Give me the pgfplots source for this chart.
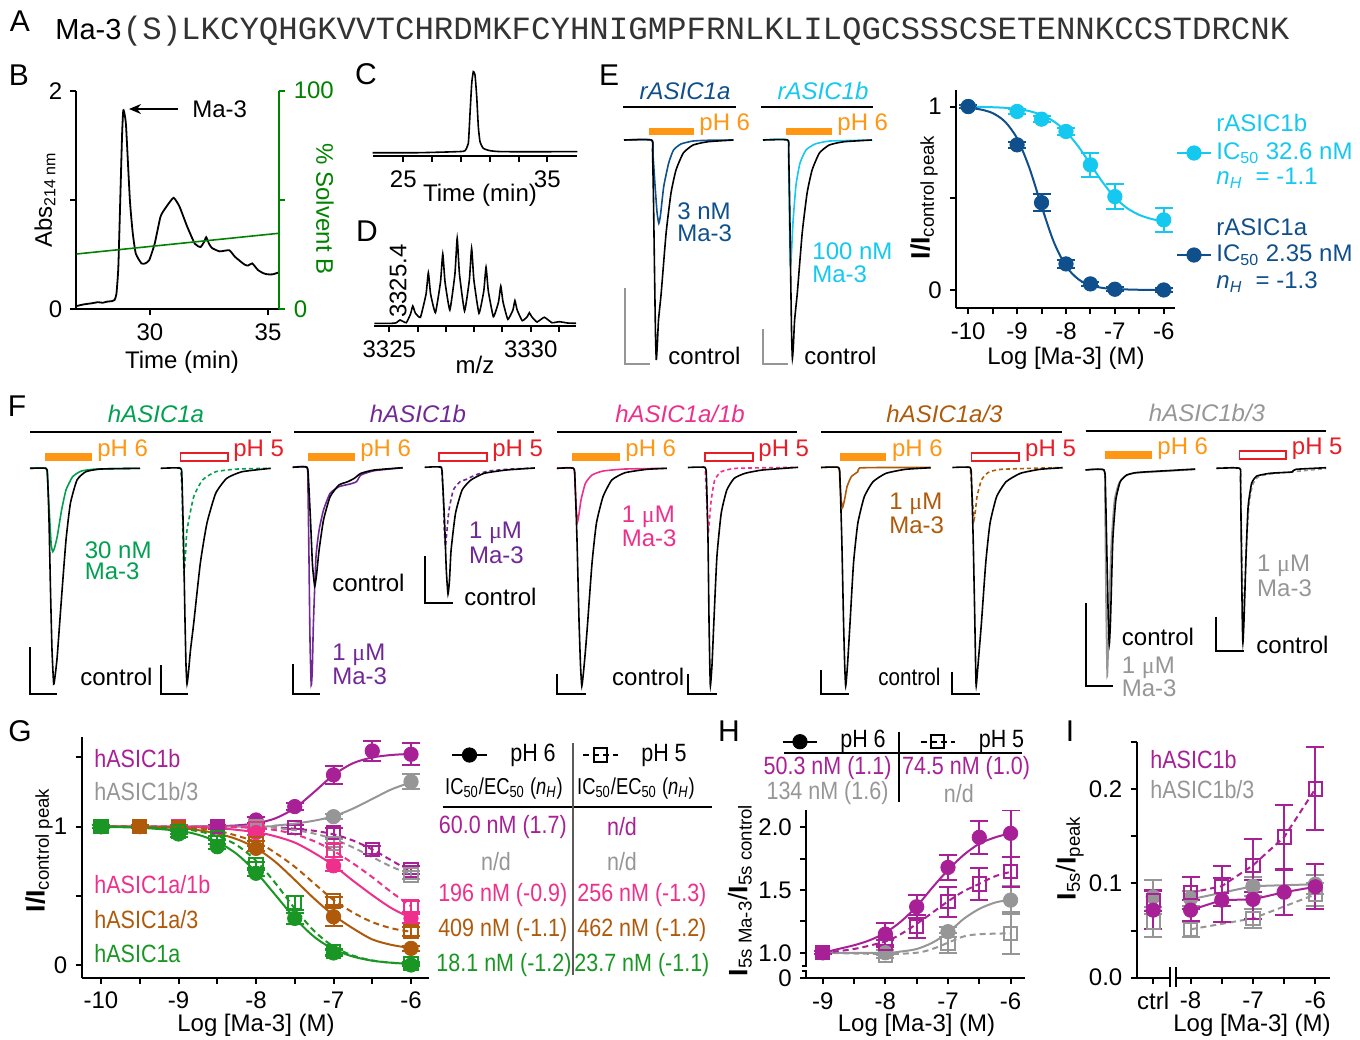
\documentclass[border=0pt]{standalone}
\usepackage{fontspec}
\setmainfont{Liberation Sans}
\newfontfamily\seqfont{Liberation Mono}
\newfontfamily\seriffont{Liberation Serif}
\newfontfamily\condfont[FakeStretch=0.86]{Liberation Sans}
\newfontfamily\condfontb[FakeStretch=0.80]{Liberation Sans}
\usepackage{pgfplots}
\pgfplotsset{compat=1.18}
\usetikzlibrary{arrows.meta}
\definecolor{cOrange}{RGB}{255,150,20}
\definecolor{cRed}{RGB}{230,30,40}
\definecolor{cDark}{RGB}{15,80,140}
\definecolor{cCyan}{RGB}{20,200,240}
\definecolor{cGreenF}{RGB}{0,160,80}
\definecolor{cGreen}{RGB}{25,150,35}
\definecolor{cPurpF}{RGB}{112,40,150}
\definecolor{cMag}{RGB}{168,32,150}
\definecolor{cPink}{RGB}{238,48,140}
\definecolor{cBrown}{RGB}{175,90,10}
\definecolor{cGray}{RGB}{150,150,150}
\definecolor{cSolv}{RGB}{0,130,0}
\newcommand{\um}{{\seriffont μ}M}
\newcommand{\nH}{\textit{n}\textsubscript{\textit{H}}}
\newcommand{\cf}{\condfont\fontsize{12.5}{14}\selectfont}
\newcommand{\cfh}{\condfontb\fontsize{11.5}{13}\selectfont}
\newcommand{\lett}{\fontsize{15}{17}\selectfont}
\newcommand{\yl}{\fontsize{13.3}{15}\selectfont}
\pgfplotsset{
  base/.style={scale only axis, axis line style={line width=1pt,-}, every tick/.style={black,line width=1pt},
    major tick length=3pt, minor tick length=3pt, tick align=outside,
    ticklabel style={font=\fontsize{12}{14}\selectfont}},
  dot/.style={color=#1, only marks, mark=*, mark size=3.6pt, mark options={solid,fill=#1},
    error bars/y dir=both, error bars/y explicit, error bars/error bar style={line width=1pt,solid},
    error bars/error mark options={rotate=90,mark size=4.5pt,line width=1pt,solid}},
  sq/.style={color=#1, only marks, mark=square, mark size=3.3pt, mark options={solid,line width=1pt},
    error bars/y dir=both, error bars/y explicit, error bars/error bar style={line width=1pt,solid},
    error bars/error mark options={rotate=90,mark size=4.5pt,line width=1pt,solid}},
  fitS/.style={color=#1, line width=1pt, no marks, smooth},
  fitD/.style={color=#1, line width=1pt, no marks, smooth, dash pattern=on 3pt off 2pt},
  tr/.style={color=#1, line width=0.8pt, no marks, smooth, tension=0.3},
  trd/.style={color=#1, line width=0.8pt, no marks, smooth, tension=0.3, dash pattern=on 2pt off 1.5pt},
}
\begin{document}
\fontsize{12}{14.4}\selectfont
\begin{tikzpicture}
\path[use as bounding box] (0,0) rectangle (680pt,-519.5pt);

% ---------------- B ----------------
\begin{axis}[base, at={(38.25pt,-154.65pt)}, anchor=south west, width=101.45pt, height=109.3pt,
  xmin=26.89, xmax=35.48, ymin=0, ymax=2, axis x line*=bottom, axis y line*=left,
  xtick={30,35}, xticklabels={30,35}, ytick={0,1,2}, yticklabels={0,,2}]
\addplot[black, line width=0.9pt, smooth, tension=0.3] coordinates {
(26.89,0.03) (27.2,0.045) (27.53,0.055) (27.8,0.065) (28.0,0.06) (28.18,0.07) (28.4,0.075) (28.5,0.085)
(28.58,0.14) (28.66,0.38) (28.74,0.98) (28.82,1.6) (28.87,1.82) (28.93,1.78) (28.99,1.67) (29.15,1.0)
(29.27,0.7) (29.4,0.51) (29.64,0.42) (29.8,0.42) (29.97,0.45) (30.2,0.60) (30.45,0.85) (30.7,0.94)
(31.0,1.02) (31.25,0.94) (31.57,0.76) (31.9,0.60) (32.14,0.57) (32.3,0.62) (32.38,0.66) (32.5,0.6)
(32.63,0.56) (32.95,0.53) (33.36,0.54) (33.6,0.48) (34.0,0.41) (34.15,0.40) (34.33,0.42) (34.57,0.36)
(34.8,0.33) (34.98,0.32) (35.2,0.32) (35.48,0.34)};
\end{axis}
\begin{axis}[base, at={(38.25pt,-154.65pt)}, anchor=south west, width=101.45pt, height=109.3pt,
  xmin=26.89, xmax=35.48, ymin=0, ymax=100, axis x line=none, axis y line*=right,
  y axis line style={cSolv}, ytick={0,50,100}, yticklabels={0,,100},
  yticklabel style={text=cSolv}, ytick style={cSolv}]
\addplot[cSolv, line width=0.8pt] coordinates {(26.89,25.3) (35.48,34.8)};
\end{axis}

% ---------------- C ----------------
\begin{axis}[base, at={(186.35pt,-78pt)}, anchor=south west, width=102.3pt, height=45pt,
  xmin=22.875, xmax=37.08, ymin=0, ymax=90, axis x line*=bottom, axis y line=none,
  xtick={25,27,29,31,33,35}, xticklabels={25,,,,,35}]
\addplot[black, line width=0.8pt, smooth, tension=0.3] coordinates {
(22.875,3.3) (26,3.3) (28,4) (29.0,4.5) (29.285,5.3) (29.514,12.67) (29.632,42.67) (29.75,72.67)
(29.861,84.33) (29.979,81) (30.097,59.33) (30.208,29.33) (30.326,14.33) (30.556,7.67) (31.021,5.33)
(31.944,4.33) (37.08,4.33)};
\end{axis}

% ---------------- D ----------------
\begin{axis}[base, at={(187.15pt,-163pt)}, anchor=south west, width=100.85pt, height=48pt,
  xmin=3324.47, xmax=3331.6, ymin=0, ymax=96, axis x line*=bottom, axis y line=none,
  xtick={3325,3326,3327,3328,3329,3330,3331}, xticklabels={3325,,,,,3330,}]
\addplot[black, line width=0.8pt, smooth, tension=0.25] coordinates {
(3324.47,2.7) (3325.1,2.7) (3325.25,3.3) (3325.38,6) (3325.6,3.3) (3325.75,12) (3325.83,20) (3325.92,13)
(3326.1,8.7) (3326.3,32) (3326.38,53.3) (3326.46,32) (3326.63,13.3) (3326.81,44) (3326.89,72) (3326.97,44)
(3327.14,16) (3327.32,52) (3327.40,87.7) (3327.48,52) (3327.66,15) (3327.83,46) (3327.91,77.7) (3327.99,46)
(3328.17,12.7) (3328.34,35) (3328.42,58.7) (3328.5,35) (3328.68,9.3) (3328.86,24) (3328.94,40) (3329.02,24)
(3329.19,6.7) (3329.37,16) (3329.44,25.3) (3329.52,16) (3329.70,5.3) (3329.88,9.5) (3329.95,13.3) (3330.03,9.5)
(3330.22,4) (3330.48,8.7) (3330.75,3.3) (3331.01,4.3) (3331.3,3) (3331.6,2.7)};
\end{axis}

% ---------------- E dose-response ----------------
\begin{axis}[base, at={(478pt,-154.15pt)}, anchor=south west, width=109.25pt, height=109.15pt,
  xmin=-10.25, xmax=-5.78, ymin=-0.1, ymax=1.09, axis lines*=left,
  xtick={-10,-9.5,-9,-8.5,-8,-7.5,-7,-6.5,-6}, xticklabels={-10,,-9,,-8,,-7,,-6},
  ytick={0,0.5,1}, yticklabels={0,,1}]
\addplot[fitS=cCyan] coordinates {(-10,0.999) (-9.75,0.998) (-9.5,0.996) (-9.25,0.993) (-9,0.986) (-8.75,0.975)
 (-8.5,0.954) (-8.25,0.919) (-8,0.863) (-7.75,0.783) (-7.5,0.685) (-7.25,0.587) (-7,0.504) (-6.75,0.446)
 (-6.5,0.409) (-6.25,0.387) (-6,0.374)};
\addplot[dot=cCyan] coordinates {(-10,1.0) +- (0,0.01) (-9,0.973) +- (0,0.015) (-8.5,0.931) +- (0,0.015)
 (-8,0.864) +- (0,0.02) (-7.5,0.682) +- (0,0.065) (-7,0.509) +- (0,0.07) (-6,0.382) +- (0,0.067)};
\addplot[fitS=cDark] coordinates {(-10,0.993) (-9.75,0.984) (-9.5,0.964) (-9.25,0.918) (-9,0.826) (-8.75,0.666)
 (-8.5,0.457) (-8.25,0.262) (-8,0.130) (-7.75,0.059) (-7.5,0.026) (-7.25,0.011) (-7,0.005) (-6.5,0.001) (-6,0.0)};
\addplot[dot=cDark] coordinates {(-10,1.0) +- (0,0.01) (-9,0.791) +- (0,0.015) (-8.5,0.476) +- (0,0.048)
 (-8,0.142) +- (0,0.02) (-7.5,0.033) +- (0,0.01) (-7,0.004) +- (0,0.01) (-6,0.0) +- (0,0.01)};
\end{axis}

% ---------------- G ----------------
\begin{axis}[base, at={(40.85pt,-488.85pt)}, anchor=south west, width=173.8pt, height=120.5pt,
  xmin=-10.249, xmax=-5.764, ymin=-0.092, ymax=1.65, axis lines*=left,
  xtick={-10,-9.5,-9,-8.5,-8,-7.5,-7,-6.5,-6}, xticklabels={-10,,-9,,-8,,-7,,-6},
  ytick={0,0.5,1,1.5}, yticklabels={0,,1,}]
% magenta
\addplot[fitS=cMag] coordinates {(-10,1.0) (-9,1.0) (-8.5,1.004) (-8.25,1.009) (-8,1.024) (-7.75,1.060) (-7.5,1.134)
 (-7.25,1.250) (-7,1.373) (-6.75,1.458) (-6.5,1.500) (-6.25,1.518) (-6,1.526)};
\addplot[fitD=cMag] coordinates {(-10,1) (-8,0.999) (-7.75,0.995) (-7.5,0.985) (-7.25,0.97) (-7,0.945) (-6.75,0.9)
 (-6.5,0.835) (-6.25,0.755) (-6,0.675)};
\addplot[sq=cMag] coordinates {(-10,1) +- (0,0.01) (-9,1.0) +- (0,0.01) (-8.5,1.0) +- (0,0.01) (-8,1.0) +- (0,0.01)
 (-7.5,0.996) +- (0,0.015) (-7,0.957) +- (0,0.03) (-6.5,0.832) +- (0,0.03) (-6,0.687) +- (0,0.03)};
\addplot[dot=cMag] coordinates {(-10,1) +- (0,0.01) (-9,1.0) +- (0,0.015) (-8.5,1.0) +- (0,0.015) (-8,1.048) +- (0,0.02)
 (-7.5,1.145) +- (0,0.025) (-7,1.374) +- (0,0.063) (-6.5,1.547) +- (0,0.075) (-6,1.523) +- (0,0.08)};
% gray
\addplot[fitS=cGray] coordinates {(-10,1) (-8,1.0) (-7.75,1.008) (-7.5,1.022) (-7.25,1.043) (-7,1.075) (-6.75,1.13)
 (-6.5,1.2) (-6.25,1.27) (-6,1.32)};
\addplot[fitD=cGray] coordinates {(-10,1) (-8,0.998) (-7.75,0.99) (-7.5,0.975) (-7.25,0.95) (-7,0.91) (-6.75,0.85)
 (-6.5,0.78) (-6.25,0.71) (-6,0.655)};
\addplot[sq=cGray] coordinates {(-10,1) +- (0,0.01) (-9,1) +- (0,0.01) (-8,1.0) +- (0,0.01) (-7,0.88) +- (0,0.03) (-6,0.651) +- (0,0.03)};
\addplot[dot=cGray] coordinates {(-10,1) +- (0,0.01) (-9,1) +- (0,0.01) (-8,1.0) +- (0,0.01) (-7,1.072) +- (0,0.02) (-6,1.325) +- (0,0.054)};
% pink
\addplot[fitS=cPink] coordinates {(-10,1) (-9,0.998) (-8.5,0.99) (-8,0.96) (-7.75,0.93) (-7.5,0.885) (-7.25,0.81)
 (-7,0.72) (-6.75,0.61) (-6.5,0.505) (-6.25,0.41) (-6,0.34)};
\addplot[fitD=cPink] coordinates {(-10,1) (-8.5,0.998) (-8,0.99) (-7.75,0.975) (-7.5,0.945) (-7.25,0.895) (-7,0.825)
 (-6.75,0.735) (-6.5,0.635) (-6.25,0.525) (-6,0.425)};
\addplot[sq=cPink] coordinates {(-10,1) +- (0,0.01) (-9.5,1) +- (0,0.01) (-9,1.0) +- (0,0.01) (-8,0.986) +- (0,0.015)
 (-7,0.83) +- (0,0.05) (-6,0.422) +- (0,0.04)};
\addplot[dot=cPink] coordinates {(-10,1) +- (0,0.01) (-9.5,1) +- (0,0.01) (-9,1.0) +- (0,0.01) (-8,0.957) +- (0,0.02)
 (-7,0.717) +- (0,0.04) (-6,0.337) +- (0,0.03)};
% brown
\addplot[fitS=cBrown] coordinates {(-10,1.0) (-9.5,0.998) (-9,0.99) (-8.75,0.975) (-8.5,0.95) (-8.25,0.91) (-8,0.845)
 (-7.75,0.745) (-7.5,0.615) (-7.25,0.48) (-7,0.36) (-6.75,0.265) (-6.5,0.185) (-6.25,0.145) (-6,0.122)};
\addplot[fitD=cBrown] coordinates {(-10,1.0) (-9,0.995) (-8.5,0.97) (-8,0.89) (-7.75,0.81) (-7.5,0.71) (-7.25,0.59)
 (-7,0.47) (-6.75,0.38) (-6.5,0.31) (-6.25,0.265) (-6,0.24)};
\addplot[sq=cBrown] coordinates {(-10,1) +- (0,0.01) (-9.5,1) +- (0,0.01) (-9,0.995) +- (0,0.01) (-8,0.879) +- (0,0.02)
 (-7,0.463) +- (0,0.03) (-6,0.241) +- (0,0.03)};
\addplot[dot=cBrown] coordinates {(-10,1) +- (0,0.01) (-9.5,1) +- (0,0.01) (-9,0.99) +- (0,0.01) (-8,0.843) +- (0,0.02)
 (-7,0.349) +- (0,0.07) (-6,0.12) +- (0,0.02)};
% green
\addplot[fitS=cGreen] coordinates {(-10,0.998) (-9.5,0.992) (-9,0.970) (-8.75,0.942) (-8.5,0.890) (-8.25,0.803) (-8,0.671)
 (-7.75,0.506) (-7.5,0.339) (-7.25,0.204) (-7,0.114) (-6.75,0.061) (-6.5,0.031) (-6.25,0.016) (-6,0.008)};
\addplot[fitD=cGreen] coordinates {(-10,0.999) (-9.5,0.996) (-9,0.984) (-8.75,0.967) (-8.5,0.932) (-8.25,0.867) (-8,0.754)
 (-7.75,0.592) (-7.5,0.408) (-7.25,0.246) (-7,0.133) (-6.75,0.068) (-6.5,0.033) (-6.25,0.016) (-6,0.008)};
\addplot[sq=cGreen] coordinates {(-10,1) +- (0,0.01) (-9,0.965) +- (0,0.015) (-8.5,0.92) +- (0,0.015) (-8,0.723) +- (0,0.02)
 (-7.5,0.45) +- (0,0.05) (-7,0.095) +- (0,0.02) (-6,0.01) +- (0,0.01)};
\addplot[dot=cGreen] coordinates {(-10,1) +- (0,0.01) (-9,0.947) +- (0,0.02) (-8.5,0.855) +- (0,0.02) (-8,0.663) +- (0,0.02)
 (-7.5,0.337) +- (0,0.04) (-7,0.087) +- (0,0.02) (-6,0.0) +- (0,0.01)};
\end{axis}

% ---------------- H ----------------
\begin{axis}[base, at={(403.1pt,-489.15pt)}, anchor=south west, width=109.45pt, height=84.15pt,
  xmin=-9.265, xmax=-5.768, ymin=0.796, ymax=2.139, axis lines*=left,
  xtick={-9,-8.5,-8,-7.5,-7,-6.5,-6}, xticklabels={-9,,-8,,-7,,-6},
  ytick={0.796,1,1.25,1.5,1.75,2}, yticklabels={0,1.0,,1.5,,2.0}]
\addplot[fitS=cGray] coordinates {(-9,1.0) (-8,1.0) (-7.75,1.01) (-7.5,1.03) (-7.25,1.08) (-7,1.16) (-6.75,1.27)
 (-6.5,1.35) (-6.25,1.40) (-6,1.425)};
\addplot[fitD=cGray] coordinates {(-9,1.0) (-8,0.99) (-7.5,1.0) (-7.25,1.03) (-7,1.08) (-6.75,1.13) (-6.5,1.148) (-6,1.155)};
\addplot[sq=cGray] coordinates {(-9,1.0) +- (0,0.01) (-8,0.98) +- (0,0.02) (-7,1.075) +- (0,0.08) (-6,1.155) +- (0,0.167)};
\addplot[dot=cGray] coordinates {(-9,1.0) +- (0,0.01) (-8,1.0) +- (0,0.02) (-7,1.168) +- (0,0.04) (-6,1.42) +- (0,0.11)};
\addplot[fitS=cMag] coordinates {(-9,1.0) (-8.75,1.03) (-8.5,1.06) (-8.25,1.10) (-8,1.16) (-7.75,1.25) (-7.5,1.37)
 (-7.25,1.52) (-7,1.66) (-6.75,1.78) (-6.5,1.87) (-6.25,1.92) (-6,1.955)};
\addplot[fitD=cMag] coordinates {(-9,1.0) (-8.5,1.03) (-8,1.09) (-7.75,1.15) (-7.5,1.23) (-7.25,1.32) (-7,1.41)
 (-6.75,1.49) (-6.5,1.55) (-6.25,1.61) (-6,1.645)};
\addplot[sq=cMag] coordinates {(-9,1.0) +- (0,0.01) (-8,1.075) +- (0,0.03) (-7.5,1.208) +- (0,0.093) (-7,1.407) +- (0,0.12)
 (-6.5,1.548) +- (0,0.13) (-6,1.647) +- (0,0.12)};
\addplot[dot=cMag] coordinates {(-9,1.0) +- (0,0.01) (-8,1.149) +- (0,0.09) (-7.5,1.367) +- (0,0.09) (-7,1.681) +- (0,0.097)
 (-6.5,1.921) +- (0,0.13) (-6,1.953) +- (0,0.19)};
\end{axis}

% ---------------- I ----------------
\begin{axis}[base, at={(568.35pt,-488.85pt)}, anchor=south west, width=96.55pt, height=118pt,
  xmin=-8.864, xmax=-5.768, ymin=0, ymax=0.25, axis lines*=left,
  xtick={-8.6,-8,-7.5,-7,-6.5,-6}, xticklabels={ctrl,-8,,-7,,-6},
  ytick={0,0.05,0.1,0.15,0.2,0.25}, yticklabels={0.0,,0.1,,0.2,}]
\addplot[color=cGray, line width=1pt] coordinates {(-8,0.083) (-7,0.097) (-6,0.099)};
\addplot[color=cGray, line width=1pt, dash pattern=on 3pt off 2pt] coordinates {(-8,0.0513) (-7,0.0628) (-6,0.0882)};
\addplot[sq=cGray] coordinates {(-8.6,0.059) +- (0,0.016) (-8,0.0513) +- (0,0.008) (-7,0.0628) +- (0,0.01) (-6,0.0882) +- (0,0.012)};
\addplot[dot=cGray] coordinates {(-8.6,0.0857) +- (0,0.018) (-8,0.084) +- (0,0.008) (-7,0.097) +- (0,0.01) (-6,0.099) +- (0,0.01)};
\addplot[color=cMag, line width=1pt] coordinates {(-8,0.0716) (-7.5,0.0822) (-7,0.083) (-6.5,0.0906) (-6,0.0963)};
\addplot[color=cMag, line width=1pt, dash pattern=on 3pt off 2pt] coordinates {(-8,0.09) (-7.5,0.097) (-7,0.119) (-6.5,0.149) (-6,0.2)};
\addplot[sq=cMag] coordinates {(-8.6,0.082) +- (0,0.011) (-8,0.09) +- (0,0.017) (-7.5,0.097) +- (0,0.021) (-7,0.119) +- (0,0.028)
 (-6.5,0.149) +- (0,0.034) (-6,0.2) +- (0,0.044)};
\addplot[dot=cMag] coordinates {(-8.6,0.0716) +- (0,0.02) (-8,0.0716) +- (0,0.011) (-7.5,0.0822) +- (0,0.023) (-7,0.083) +- (0,0.021)
 (-6.5,0.0906) +- (0,0.024) (-6,0.0963) +- (0,0.024)};
\end{axis}

% ---------------- overlay (pixel coordinates) ----------------
\begin{axis}[at={(0pt,0pt)}, anchor=north west, scale only axis, width=680pt, height=519.5pt,
  xmin=0, xmax=1360, ymin=0, ymax=1039, y dir=reverse, hide axis, clip=false]
% ---- E traces ----
\addplot[tr=cDark] coordinates {(624,140) (651.5,140) (653,155) (655,185) (657,212) (658.8,223.3) (660.5,215) (663.7,186.7)
 (668.6,163.3) (673.5,150) (680.9,144) (693,141) (710,140.2) (733.4,140)};
\addplot[tr=black] coordinates {(624,140) (651.5,140) (652.5,150) (653.5,200) (654.5,270) (655.5,335) (656.3,360) (657.3,345)
 (658.5,320) (661.2,293) (666.1,233) (671,193) (676,170) (683.3,153) (693.1,145) (707.9,141.7) (733.4,140)};
\addplot[tr=cCyan] coordinates {(763,140) (787.6,140) (788.6,165) (789.6,230) (790.4,265) (791.5,252) (793,222) (796,185)
 (800,163) (806,150) (815,144) (830,141) (872,140)};
\addplot[tr=black] coordinates {(763,140) (787.6,140) (788.6,150) (789.6,200) (790.6,270) (791.6,335) (792.4,358.3) (793.4,345)
 (794.6,320) (797.3,293) (802.2,233) (807.1,193) (812.1,170) (819.4,153) (829.2,145) (844,141.7) (872,140)};
% ---- F traces ----
\addplot[tr=cGreenF] coordinates {(30,468.3) (46,468.3) (47.5,478) (49.5,515) (51.2,545) (52.8,551.7) (54.5,548) (57.2,536.7)
 (61.6,510) (66,490) (72.6,476.7) (81.4,471) (96.8,469) (140,468.3)};
\addplot[tr=black] coordinates {(30,468.3) (46,468.3) (47.5,475) (49,520) (50.5,590) (52,650) (53.7,684) (55.2,675) (57.2,656.7)
 (61.6,596.7) (66,540) (70.4,503.3) (77,480) (85.8,471.7) (101,469) (140,468.3)};
\addplot[trd=cGreenF] coordinates {(178,468.3) (180.5,468.3) (182,490) (183,540) (184,572.7) (185.5,555) (187,530) (193.7,496.7)
 (202.5,480) (215.7,471.7) (237.7,469) (270.7,468.3)};
\addplot[tr=black] coordinates {(160.6,468.3) (180.5,468.3) (182,480) (183.5,540) (185,620) (186,665) (187,684) (188.5,672)
 (190.5,650) (193.7,623.3) (200.3,563.3) (206.9,523.3) (215.7,493.3) (226.7,478.3) (242,471.7) (270.7,468.3)};
\addplot[tr=cPurpF] coordinates {(292.7,467.3) (307,467.3) (308,490) (309,560) (310,640) (311.2,685) (312.3,670) (313.4,623.3)
 (316,556.7) (319.1,530) (323.5,510) (330.1,493.3) (338.9,486.7) (349.9,484) (356.5,481.7) (360.9,475) (374.1,470.7) (402.7,467.7)};
\addplot[tr=black] coordinates {(292.7,467.3) (307,467.3) (308.5,480) (310.5,520) (312.5,565) (314.7,586) (316.5,575) (319.1,550)
 (323.5,520) (330.1,496.7) (338.9,485) (347.7,481.7) (354.3,478.3) (360.9,473.3) (374.1,470) (402.7,467.7)};
\addplot[trd=cPurpF] coordinates {(439,467.3) (441.5,467.3) (443,490) (444.3,530) (445.4,546.7) (447,530) (449,510) (453.3,490)
 (460,481.7) (466.5,479.3) (475.3,475) (488.5,471) (510.6,469) (534.8,468)};
\addplot[tr=black] coordinates {(424.7,467.3) (441,467.3) (442.5,480) (444.5,520) (446.3,570) (448,594) (449.5,580) (451.1,550)
 (455.5,513.3) (462.1,490) (470.9,480) (484.1,473.3) (506.2,470) (534.8,468)};
\addplot[tr=cPink] coordinates {(556.8,468.3) (573.5,468.3) (575,485) (576.3,510) (577.5,521.7) (579,514) (581,500) (585.4,483.3)
 (592,475) (603,471) (625,469) (666.8,468.3)};
\addplot[tr=black] coordinates {(556.8,468.3) (573.5,468.3) (575,480) (577,540) (579,620) (580.5,665) (581.8,686) (583.5,672)
 (585.5,650) (587.6,623.3) (592,563.3) (596.4,523.3) (603,496.7) (611.8,480) (625,472.7) (647,469.3) (666.8,468.3)};
\addplot[trd=cPink] coordinates {(702,467.5) (705,467.5) (706.3,490) (707.3,515) (708.2,533.3) (709.5,520) (711.2,500) (714.7,480)
 (721.2,471.7) (736.4,468.3) (798,467.3)};
\addplot[tr=black] coordinates {(687.8,467.5) (705,467.5) (706.5,480) (708,540) (709,620) (709.8,665) (710.4,686) (712,665)
 (713.8,623.3) (716.9,556.7) (721.2,513.3) (726.8,490) (734.2,478.3) (745,473.3) (762.4,470) (798,467.3)};
\addplot[tr=cBrown] coordinates {(821,467.5) (838.5,467.5) (839.8,480) (841.2,500) (842.6,507.3) (844.5,500) (847,486.7)
 (851.3,476.7) (857.8,471.7) (859.5,468) (880,467.5) (930.7,467.5)};
\addplot[tr=black] coordinates {(821,467.5) (838.5,467.5) (840,480) (841.8,540) (843.5,620) (844.7,665) (845.7,686) (847.5,665)
 (850,623.3) (853.5,563.3) (857.8,523.3) (864.3,496.7) (873,481.7) (886,473.3) (905.5,469.3) (930.7,467.7)};
\addplot[trd=cBrown] coordinates {(966,467.5) (970,467.5) (971.5,485) (972.8,505) (974,520) (975.5,510) (977,496.7) (981.4,480)
 (987.9,472.7) (1000.9,469.3) (1062.5,467.5)};
\addplot[tr=black] coordinates {(952.3,467.5) (970,467.5) (971.5,480) (973.2,540) (974.8,620) (975.6,665) (976.2,686) (978,665)
 (981.4,623.3) (985.7,563.3) (990,523.3) (996.6,496.7) (1006.1,481.7) (1020.4,473.3) (1039.9,469.3) (1062.5,467.7)};
\addplot[tr=cGray] coordinates {(1085.5,470) (1104,470) (1105,500) (1106,600) (1107.2,676) (1108.5,640) (1110,580) (1111.5,540)
 (1114.5,500) (1119,483) (1126,475.5) (1135,473) (1150,472) (1195.2,469.5)};
\addplot[tr=black] coordinates {(1085.5,470) (1104,470) (1105.5,490) (1107,560) (1108.3,620) (1109.3,644) (1110.5,620) (1112.8,540)
 (1115.8,500) (1120.2,481.7) (1126.7,475) (1135.3,472.7) (1148.3,471.7) (1170,470.5) (1195.2,469)};
\addplot[trd=cGray] coordinates {(1216.4,468.3) (1239.5,468.3) (1240.8,490) (1242,560) (1243,615) (1244.3,600) (1246.5,545)
 (1249,505) (1252.5,485) (1258,477) (1270,474) (1326.1,468.5)};
\addplot[tr=black] coordinates {(1216.4,468.3) (1239.5,468.3) (1240.5,480) (1241.5,560) (1242.3,620) (1242.9,642.7) (1244,620)
 (1246,556.7) (1248.1,506.7) (1251.6,483.3) (1256.8,476) (1269.8,473.3) (1287.1,472.3) (1292,472) (1295.8,469.3) (1326.1,467.7)};
% ---- legend samples (E, G, H) ----
\addplot[color=cCyan, line width=1pt] coordinates {(1177,153) (1211,153)};
\addplot[dot=cCyan, error bars/y dir=none] coordinates {(1194,153)};
\addplot[color=cDark, line width=1pt] coordinates {(1177,255) (1211,255)};
\addplot[dot=cDark, error bars/y dir=none] coordinates {(1194,255)};
\addplot[color=black, line width=1pt] coordinates {(452,755) (487,755)};
\addplot[dot=black, error bars/y dir=none] coordinates {(469.5,755)};
\addplot[color=black, line width=1pt, dash pattern=on 3pt off 2pt] coordinates {(583,755) (618,755)};
\addplot[sq=black, error bars/y dir=none] coordinates {(600.5,755)};
\addplot[color=black, line width=1pt] coordinates {(782.6,741.7) (817,741.7)};
\addplot[dot=black, error bars/y dir=none] coordinates {(800,741.7)};
\addplot[color=black, line width=1pt, dash pattern=on 3pt off 2pt] coordinates {(920.6,741.7) (954.6,741.7)};
\addplot[sq=black, error bars/y dir=none] coordinates {(937.6,741.7)};

% ---- panel letters ----
\node[font=\lett] at (20,21) {A};
\node[font=\lett] at (19,75) {B};
\node[font=\lett] at (366,74) {C};
\node[font=\lett] at (367,231) {D};
\node[font=\lett] at (609,75) {E};
\node[font=\lett] at (17,406) {F};
\node[font=\lett] at (20,731) {G};
\node[font=\lett] at (729,731) {H};
\node[font=\lett] at (1070,731) {I};
% ---- A ----
\node[anchor=base west, inner sep=0pt, font=\fontsize{14.5}{16}\selectfont] at (55,39) {Ma-3};
\node[anchor=base west, inner sep=0pt, text=black!80, font=\seqfont\fontsize{16.2}{18}\selectfont] at (122.5,39) {(S)LKCYQHGKVVTCHRDMKFCYHNIGMPFRNLKLILQGCSSSCSETENNKCCSTDRCNK};
% ---- B ----
\node[rotate=90] at (45,200) {Abs\textsubscript{214 nm}};
\node[rotate=-90, text=cSolv] at (325,209) {\% Solvent B};
\node at (182,362) {Time (min)};
\node[anchor=west] at (184,109) {Ma-3};
\draw[-{Stealth[length=6pt,width=5pt]}, line width=0.8pt] (178,109) -- (129,109);
% ---- C, D ----
\node at (480,195) {Time (min)};
\node at (475,365) {m/z};
\node[rotate=90] at (398,281) {3325.4};
% ---- E ----
\node[font=\itshape, text=cDark] at (685,91) {rASIC1a};
\node[font=\itshape, text=cCyan] at (823,91) {rASIC1b};
\draw[line width=1pt] (623,106.7) -- (736,106.7);
\draw[line width=1pt] (761,106.7) -- (873,106.7);
\fill[cOrange] (649,128) rectangle (694,135);
\fill[cOrange] (786,128) rectangle (832,135);
\node[anchor=west, inner sep=0pt, text=cOrange] at (699,125) {pH 6};
\node[anchor=west, inner sep=0pt, text=cOrange] at (837,125) {pH 6};
\node[anchor=west, inner sep=0pt, text=cDark] at (677,211) {3 nM};
\node[anchor=west, inner sep=0pt, text=cDark] at (677,233) {Ma-3};
\node[anchor=west, inner sep=0pt, text=cCyan] at (812,251) {100 nM};
\node[anchor=west, inner sep=0pt, text=cCyan] at (812,274) {Ma-3};
\node[anchor=west, inner sep=0pt] at (668,356) {control};
\node[anchor=west, inner sep=0pt] at (804,356) {control};
\draw[cGray, line width=1pt] (625.4,288) -- (625.4,364) -- (650,364);
\draw[cGray, line width=1pt] (763,329) -- (763,364) -- (787.5,364);
\node at (1066,358) {Log [Ma-3] (M)};
\node[rotate=90, font=\yl] at (924,197) {\textbf{I/I}\textsubscript{control peak}};
\node[anchor=west, inner sep=0pt, text=cCyan] at (1216,123) {rASIC1b};
\node[anchor=west, inner sep=0pt, text=cCyan] at (1216,153) {IC\textsubscript{50} 32.6 nM};
\node[anchor=west, inner sep=0pt, text=cCyan] at (1216,178) {\nH\ \ = -1.1};
\node[anchor=west, inner sep=0pt, text=cDark] at (1216,227) {rASIC1a};
\node[anchor=west, inner sep=0pt, text=cDark] at (1216,255) {IC\textsubscript{50} 2.35 nM};
\node[anchor=west, inner sep=0pt, text=cDark] at (1216,282) {\nH\ \ = -1.3};
% ---- F titles / lines ----
\node[font=\itshape, text=cGreenF] at (156,414) {hASIC1a};
\node[font=\itshape, text=cPurpF] at (418,414) {hASIC1b};
\node[font=\itshape, text=cPink] at (680,414) {hASIC1a/1b};
\node[font=\itshape, text=cBrown] at (944.5,414) {hASIC1a/3};
\node[font=\itshape, text=cGray] at (1207,413) {hASIC1b/3};
\draw[line width=1pt] (30,432.3) -- (271,432.3);
\draw[line width=1pt] (294,432.3) -- (534,432.3);
\draw[line width=1pt] (556.8,432.3) -- (797,432.3);
\draw[line width=1pt] (821,432.3) -- (1061.6,432.3);
\draw[line width=1pt] (1085.5,430.7) -- (1326,430.7);
% pH bars
\fill[cOrange] (45,452.7) rectangle (91.5,460.7);
\fill[cOrange] (308,452.7) rectangle (354.8,460.7);
\fill[cOrange] (572,452.7) rectangle (619.7,460.7);
\fill[cOrange] (839.6,452.7) rectangle (886,460.7);
\fill[cOrange] (1105,451) rectangle (1151.8,459);
\draw[cRed, line width=0.9pt] (180.5,452.7) rectangle (228,460.7);
\draw[cRed, line width=0.9pt] (439,452.7) rectangle (487,460.7);
\draw[cRed, line width=0.9pt] (705.2,452.7) rectangle (752.9,460.7);
\draw[cRed, line width=0.9pt] (971.4,452.7) rectangle (1019.1,460.7);
\draw[cRed, line width=0.9pt] (1239.4,451) rectangle (1286.2,459);
\node[anchor=west, inner sep=0pt, text=cOrange] at (97,450.7) {pH 6};
\node[anchor=west, inner sep=0pt, text=cOrange] at (360,450.7) {pH 6};
\node[anchor=west, inner sep=0pt, text=cOrange] at (625,450.7) {pH 6};
\node[anchor=west, inner sep=0pt, text=cOrange] at (891.6,450.7) {pH 6};
\node[anchor=west, inner sep=0pt, text=cOrange] at (1157,448.3) {pH 6};
\node[anchor=west, inner sep=0pt, text=cRed] at (233,450.7) {pH 5};
\node[anchor=west, inner sep=0pt, text=cRed] at (492,450.7) {pH 5};
\node[anchor=west, inner sep=0pt, text=cRed] at (758,450.7) {pH 5};
\node[anchor=west, inner sep=0pt, text=cRed] at (1024.8,450.7) {pH 5};
\node[anchor=west, inner sep=0pt, text=cRed] at (1291.5,448.3) {pH 5};
% scale bars
\draw[line width=1pt] (30,647) -- (30,694) -- (57.2,694);
\draw[line width=1pt] (160.6,665) -- (160.6,694) -- (188,694);
\draw[line width=1pt] (292.7,664) -- (292.7,694) -- (320,694);
\draw[line width=1pt] (424.7,556) -- (424.7,603.3) -- (452.5,603.3);
\draw[line width=1pt] (556.8,674) -- (556.8,694) -- (586,694);
\draw[line width=1pt] (687.8,674) -- (687.8,694) -- (716.9,694);
\draw[line width=1pt] (821,670) -- (821,694) -- (849,694);
\draw[line width=1pt] (952.3,671.7) -- (952.3,694) -- (980,694);
\draw[line width=1pt] (1085.5,603.3) -- (1085.5,686) -- (1112.8,686);
\draw[line width=1pt] (1216.4,616.7) -- (1216.4,650.7) -- (1243.7,650.7);
% F labels
\node[anchor=west, inner sep=0pt, text=cGreenF] at (84.5,550) {30 nM};
\node[anchor=west, inner sep=0pt, text=cGreenF] at (84.5,571.7) {Ma-3};
\node[anchor=west, inner sep=0pt] at (80,676.7) {control};
\node[anchor=west, inner sep=0pt] at (332,583) {control};
\node[anchor=west, inner sep=0pt, text=cPurpF] at (332,655) {1 \um};
\node[anchor=west, inner sep=0pt, text=cPurpF] at (332,676.7) {Ma-3};
\node[anchor=west, inner sep=0pt, text=cPurpF] at (468.7,533) {1 \um};
\node[anchor=west, inner sep=0pt, text=cPurpF] at (468.7,555) {Ma-3};
\node[anchor=west, inner sep=0pt] at (464,596.7) {control};
\node[anchor=west, inner sep=0pt, text=cPink] at (621.5,516.7) {1 \um};
\node[anchor=west, inner sep=0pt, text=cPink] at (621.5,538.3) {Ma-3};
\node[anchor=west, inner sep=0pt] at (611.8,676.7) {control};
\node[anchor=west, inner sep=0pt, text=cBrown] at (889,503.3) {1 \um};
\node[anchor=west, inner sep=0pt, text=cBrown] at (889,525) {Ma-3};
\node[anchor=west, inner sep=0pt, font=\condfont] at (878,676.7) {control};
\node[anchor=west, inner sep=0pt] at (1121.5,636.7) {control};
\node[anchor=west, inner sep=0pt, text=cGray] at (1121.5,668) {1 \um};
\node[anchor=west, inner sep=0pt, text=cGray] at (1121.5,688.3) {Ma-3};
\node[anchor=west, inner sep=0pt, text=cGray] at (1256.8,565.8) {1 \um};
\node[anchor=west, inner sep=0pt, text=cGray] at (1256.8,588) {Ma-3};
\node[anchor=west, inner sep=0pt] at (1256,644.7) {control};
% ---- G ----
\node[anchor=west, inner sep=0pt, font=\cf, text=cMag] at (94,758.3) {hASIC1b};
\node[anchor=west, inner sep=0pt, font=\cf, text=cGray] at (94,791.7) {hASIC1b/3};
\node[anchor=west, inner sep=0pt, font=\cf, text=cPink] at (94,885) {hASIC1a/1b};
\node[anchor=west, inner sep=0pt, font=\cf, text=cBrown] at (94,919.3) {hASIC1a/3};
\node[anchor=west, inner sep=0pt, font=\cf, text=cGreen] at (94,953.3) {hASIC1a};
\node at (256,1025) {Log [Ma-3] (M)};
\node[rotate=90, font=\yl] at (39,850) {\textbf{I/I}\textsubscript{control peak}};
\node[font=\cf] at (533,755) {pH 6};
\node[font=\cf] at (664,755) {pH 5};
\node[font=\cfh] at (504,788.3) {IC\textsubscript{50}/EC\textsubscript{50} (\nH)};
\node[font=\cfh] at (636,788.3) {IC\textsubscript{50}/EC\textsubscript{50} (\nH)};
\draw[line width=1pt] (443.3,807.3) -- (711.7,807.3);
\draw[line width=0.8pt, black!65] (572.7,743.3) -- (572.7,975);
\node[font=\cf, text=cMag] at (502.8,826.7) {60.0 nM (1.7)};
\node[font=\cf, text=cMag] at (622,826.7) {n/d};
\node[font=\cf, text=cGray] at (496,861.7) {n/d};
\node[font=\cf, text=cGray] at (622,861.7) {n/d};
\node[font=\cf, text=cPink] at (502.8,895) {196 nM (-0.9)};
\node[font=\cf, text=cPink] at (641.9,895) {256 nM (-1.3)};
\node[font=\cf, text=cBrown] at (502.8,930) {409 nM (-1.1)};
\node[font=\cf, text=cBrown] at (641.9,930) {462 nM (-1.2)};
\node[font=\cf, text=cGreen] at (504,965) {18.1 nM (-1.2)};
\node[font=\cf, text=cGreen] at (641.9,965) {23.7 nM (-1.1)};
% ---- H ----
\node[font=\cf] at (863,741.7) {pH 6};
\node[font=\cf] at (1001.5,741.7) {pH 5};
\draw[line width=1pt] (783.8,752.7) -- (1021.8,752.7);
\draw[line width=0.8pt] (899,731.7) -- (899,801.7);
\node[font=\cf, text=cMag] at (827.6,768.3) {50.3 nM (1.1)};
\node[font=\cf, text=cMag] at (966,768.3) {74.5 nM (1.0)};
\node[font=\cf, text=cGray] at (827.5,793.3) {134 nM (1.6)};
\node[font=\cf, text=cGray] at (958.8,793.3) {n/d};
\node at (916.5,1025) {Log [Ma-3] (M)};
\node[rotate=90, font=\yl] at (740,890) {\textbf{I}\textsubscript{5s Ma-3}/\textbf{I}\textsubscript{5s control}};
\fill[white] (803.5,965.7) rectangle (809.5,970.7);
\draw[line width=1pt] (801.7,965.7) -- (807.3,965.7);
\draw[line width=1pt] (801.7,970.7) -- (807.3,970.7);
% ---- I ----
\node[anchor=west, inner sep=0pt, font=\cf, text=cMag] at (1150,760) {hASIC1b};
\node[anchor=west, inner sep=0pt, font=\cf, text=cGray] at (1150,790) {hASIC1b/3};
\node at (1252,1025) {Log [Ma-3] (M)};
\node[rotate=90, font=\yl] at (1070,858) {\textbf{I}\textsubscript{5s}/\textbf{I}\textsubscript{peak}};
\fill[white] (1170.5,975) rectangle (1175.9,980.5);
\draw[line width=1pt] (1170,967.3) -- (1170,987.3);
\draw[line width=1pt] (1176.4,967.3) -- (1176.4,987.3);
\end{axis}
\end{tikzpicture}
\end{document}
